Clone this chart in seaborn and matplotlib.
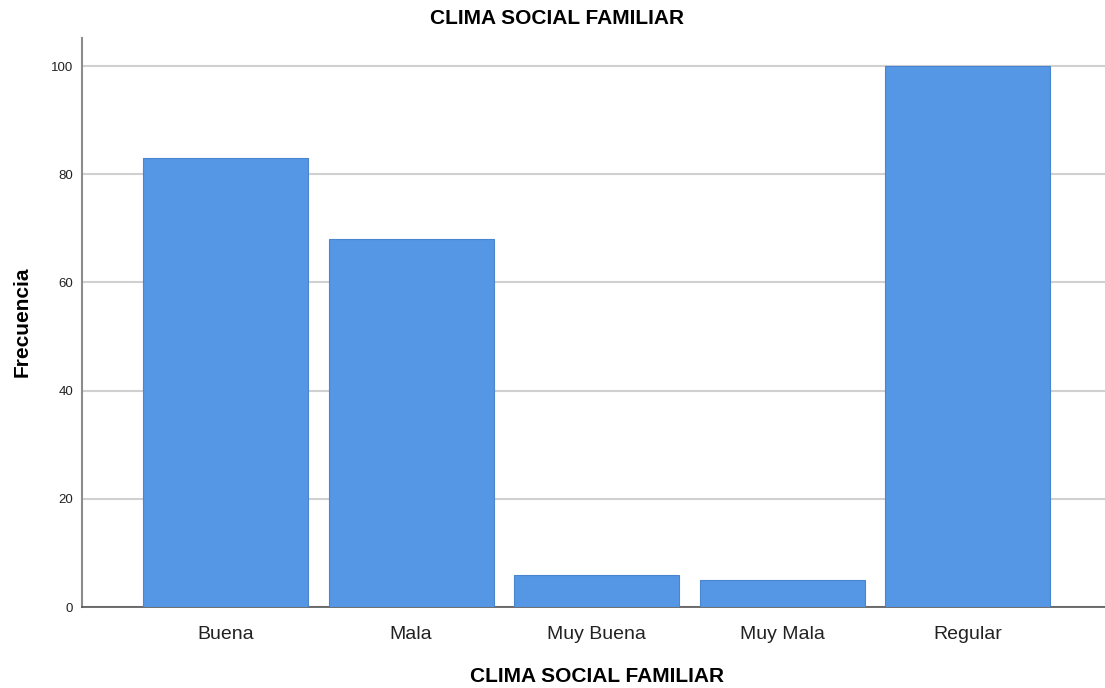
import matplotlib
matplotlib.use("Agg")
import matplotlib.pyplot as plt
import seaborn as sns
import pandas as pd

categories = ["Buena", "Mala", "Muy Buena", "Muy Mala", "Regular"]
frecuencia = [83, 68, 6, 5, 100]
yticks = [0, 20, 40, 60, 80, 100]

sns.set_theme(style="white")
plt.rcParams['font.family'] = ['Liberation Sans', 'DejaVu Sans']

df = pd.DataFrame({"cat": categories, "freq": frecuencia})

fig = plt.figure(figsize=(11.05, 6.88), dpi=100)
ax = fig.add_axes([82/1105, 81/688, 1 - 82/1105, (607-38)/688])

sns.barplot(data=df, x="cat", y="freq", order=categories, color="#5596E5",
            saturation=1, width=0.89, edgecolor="#4A85D0", linewidth=0.8, ax=ax, zorder=3)

ax.set_xlim(-0.774, 4.74)
ax.set_ylim(0, 105.2)
ax.set_yticks(yticks)
ax.set_yticklabels([str(t) for t in yticks], fontsize=9.5, color="#222222")
ax.tick_params(axis="x", labelsize=14, colors="#222222", length=0, pad=14)
ax.tick_params(axis="y", length=0, pad=6.5)
for lab in ax.get_xticklabels():
    lab.set_color("#222222")

ax.grid(axis="y", color="#D0D0D0", linewidth=1.5, zorder=0)
ax.set_axisbelow(True)

for s in ["top", "right"]:
    ax.spines[s].set_visible(False)
ax.spines["left"].set_color("#8C8C8C")
ax.spines["left"].set_linewidth(1.5)
ax.spines["bottom"].set_color("#555555")
ax.spines["bottom"].set_linewidth(1.2)

ax.set_xlabel("CLIMA SOCIAL FAMILIAR", fontsize=15, fontweight="bold", color="black")
ax.set_ylabel("Frecuencia", fontsize=15, fontweight="bold", color="black")
ax.xaxis.set_label_coords((597 - 82) / 1023, -(676 - 607) / 569)
ax.yaxis.set_label_coords(-(82 - 22) / 1023, (607 - 322) / 569)
ax.xaxis.label.set_va("center")
ax.yaxis.label.set_va("center")
fig.text(557/1105, 1 - 19/688, "CLIMA SOCIAL FAMILIAR", fontsize=15, fontweight="bold",
         ha="center", va="center", color="black")

fig.savefig("out.png", dpi=100)
